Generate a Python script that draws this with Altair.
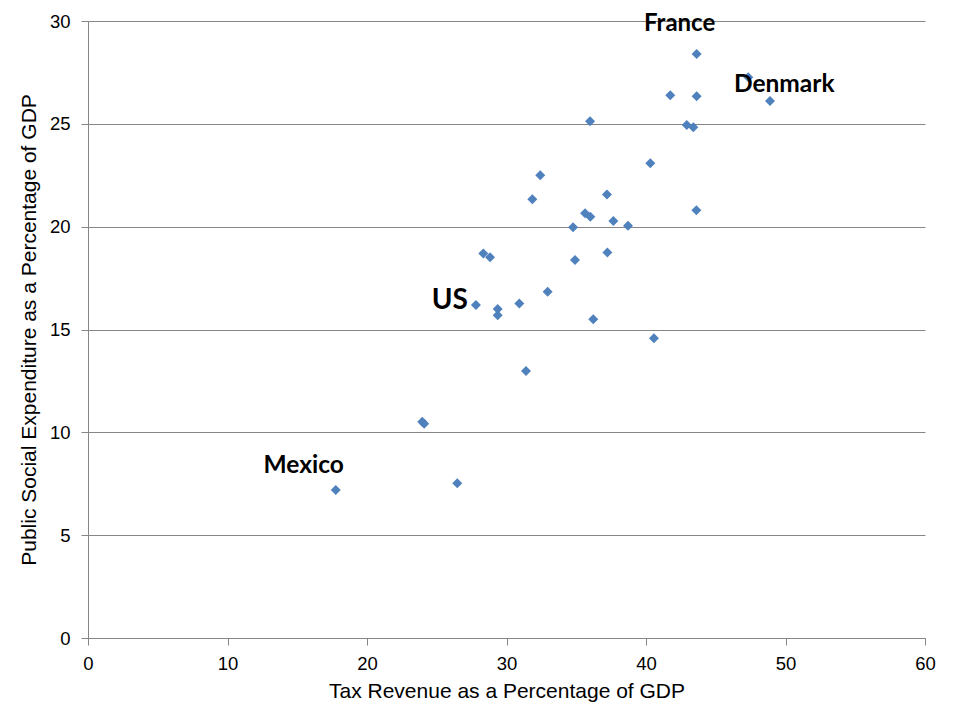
import altair as alt
import pandas as pd

# Tax revenue (% of GDP) and public social expenditure (% of GDP), OECD countries
tax_revenue = [17.76, 26.47, 23.96, 24.10, 31.40, 27.81, 29.37, 29.37, 30.92, 32.95,
               36.22, 40.57, 34.91, 28.34, 28.82, 34.77, 35.63, 36.01, 37.66, 38.71,
               37.20, 37.23, 31.85, 32.42, 40.31, 43.61, 35.99, 42.92, 43.39, 41.74,
               43.63, 43.63, 47.33, 48.89]
social_exp = [7.20, 7.52, 10.52, 10.42, 12.98, 16.19, 16.00, 15.69, 16.27, 16.84,
              15.50, 14.57, 18.38, 18.70, 18.51, 19.97, 20.65, 20.48, 20.28, 20.05,
              21.57, 18.75, 21.33, 22.50, 23.08, 20.80, 25.12, 24.94, 24.83, 26.39,
              26.34, 28.40, 27.26, 26.11]
country = ["Mexico", "", "", "", "", "US", "", "", "", "",
           "", "", "", "", "", "", "", "", "", "",
           "", "", "", "", "", "", "", "", "", "",
           "", "France", "Denmark", ""]

x_ticks = [0, 10, 20, 30, 40, 50, 60]
y_ticks = [0, 5, 10, 15, 20, 25, 30]

df = pd.DataFrame({"tax": tax_revenue, "social": social_exp, "country": country})

GRAY = "#868686"
BLUE = "#4F81BD"

x_enc = alt.X("tax:Q",
              scale=alt.Scale(domain=[0, 60], nice=False, zero=True),
              axis=alt.Axis(values=x_ticks, title="Tax Revenue as a Percentage of GDP",
                            grid=False, domainColor=GRAY, tickColor=GRAY, tickSize=7,
                            labelFlush=False, labelOverlap=False,
                            labelFont="Liberation Sans", labelFontSize=18.5, labelColor="#000",
                            labelPadding=9, titleFont="Liberation Sans", titleFontSize=21,
                            titleFontWeight="normal", titleColor="#000", titlePadding=8))
y_enc = alt.Y("social:Q",
              scale=alt.Scale(domain=[0, 30], nice=False, zero=True),
              axis=alt.Axis(values=y_ticks, title="Public Social Expenditure as a Percentage of GDP",
                            grid=True, gridColor=GRAY, gridWidth=1,
                            domainColor=GRAY, tickColor=GRAY, tickSize=7,
                            labelFlush=False, labelOverlap=False,
                            labelFont="Liberation Sans", labelFontSize=18.5, labelColor="#000",
                            labelPadding=11, titleFont="Liberation Sans", titleFontSize=21,
                            titleFontWeight="normal", titleColor="#000", titlePadding=10))

points = alt.Chart(df).mark_point(shape="diamond", filled=True, size=100, color=BLUE, opacity=1).encode(
    x=x_enc, y=y_enc
)

offsets = {
    "France": dict(dx=-17, dy=-30, fontSize=24, align="center"),
    "Denmark": dict(dx=36, dy=8, fontSize=24.5, align="center"),
    "US": dict(dx=-8, dy=-4, fontSize=28, align="right"),
    "Mexico": dict(dx=-32, dy=-24, fontSize=24.5, align="center"),
}

layers = [points]
for name, o in offsets.items():
    layers.append(
        alt.Chart(df).transform_filter(alt.datum.country == name).mark_text(
            font="Lato", fontWeight="bold", color="#000", baseline="middle",
            align=o["align"], dx=o["dx"], dy=o["dy"], fontSize=o["fontSize"]
        ).encode(x="tax:Q", y="social:Q", text="country:N")
    )

chart = alt.layer(*layers).properties(
    width=837, height=617,
    autosize=alt.AutoSizeParams(type="none"),
    padding={"left": 88, "top": 21, "right": 35, "bottom": 82},
    background="white",
).configure_view(stroke=None)

chart.save("out.html", embed_options={"renderer": "svg", "actions": False})
